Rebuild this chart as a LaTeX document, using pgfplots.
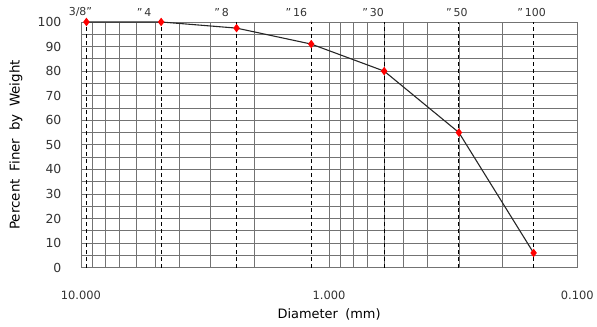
\documentclass[border=0pt]{standalone}
\usepackage{fontspec}
\setmainfont[WordSpace=1.8]{DejaVu Sans}
\usepackage{pgfplots}
\pgfplotsset{compat=1.18}
\begin{document}
\begin{tikzpicture}
\begin{axis}[
  scale only axis, width=497bp, height=246bp,
  xmode=log, x dir=reverse, xmin=0.1, xmax=10,
  ymin=0, ymax=100,
  xtick={10,1,0.1}, xticklabels={10.000,1.000,0.100},
  ytick={0,10,...,100},
  minor ytick={5,15,25,35,45,55,65,75,85,95},
  minor xtick={2,3,4,5,6,7,8,9,0.2,0.3,0.4,0.5,0.6,0.7,0.8,0.9},
  grid=both,
  major grid style={black!55, line width=0.75pt},
  minor grid style={black!55, line width=0.75pt},
  extra x ticks={9.5,4.75,2.36,1.18,0.6,0.3,0.15},
  extra x tick labels={},
  extra x tick style={grid=major, major grid style={black, line width=1pt, dash pattern=on 4pt off 3pt}},
  tick style={draw=none},
  axis line style={black!55, line width=0.75pt},
  /pgf/number format/assume math mode=true,
  xticklabel style={font=\fontsize{11.5}{11.5}\selectfont, text=black!80, yshift=-20bp},
  yticklabel style={font=\fontsize{12.5}{12.5}\selectfont, text=black!80, xshift=-16bp},
  xlabel={Diameter (mm)}, ylabel={Percent Finer by Weight},
  label style={font=\fontsize{13}{13}\selectfont},
  ylabel style={font=\fontsize{13.5}{13.5}\selectfont},
  xlabel style={at={(axis description cs:0.5,-0.19)}, anchor=center},
  ylabel style={at={(axis description cs:-0.131,0.5)}, anchor=center},
  clip=false,
]
\addplot[black!85, line width=1.1pt, mark=diamond*, mark size=3.4bp,
  mark options={fill=red, draw=red}]
  coordinates {(9.5,100) (4.75,100) (2.36,97.5) (1.18,91) (0.6,80) (0.3,55) (0.15,6)};
\begin{scope}[every node/.style={font=\fontsize{11}{11}\selectfont, anchor=south, yshift=2bp, text=black!80}]
\node[xshift=-6bp] at (axis cs:9.5,100) {3/8"};
\node[xshift=-17bp] at (axis cs:4.75,100) {"\,4};
\node[xshift=-15bp] at (axis cs:2.36,100) {"\,8};
\node[xshift=-15bp] at (axis cs:1.18,100) {"\,16};
\node[xshift=-11bp] at (axis cs:0.6,100) {"\,30};
\node[xshift=-2bp] at (axis cs:0.3,100) {"\,50};
\node[xshift=-2bp] at (axis cs:0.15,100) {"\,100};
\end{scope}
\end{axis}
\path (current axis.south west) ++(-81bp,-59bp) rectangle ([shift={(19bp,22bp)}]current axis.north east);
\end{tikzpicture}
\end{document}
